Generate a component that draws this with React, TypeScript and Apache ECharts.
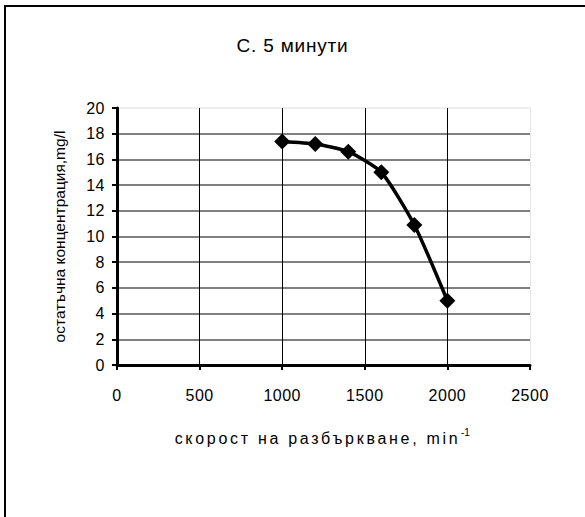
import React, { useEffect, useRef } from "react";
import * as echarts from "echarts";

const speeds = [1000, 1200, 1400, 1600, 1800, 2000];
const concentrations = [17.4, 17.2, 16.6, 15.0, 10.9, 5.0];
const titleText = "С. 5 минути";
const xName = "скорост на разбъркване, min";
const xNameSup = "-1";
const yName = "остатъчна концентрация,mg/l";

export default function App() {
  const ref = useRef<HTMLDivElement>(null);
  useEffect(() => {
    document.body.style.margin = "0";
    const chart = echarts.init(ref.current!, null, { renderer: "svg" });
    const font = "'Liberation Sans', Arial, sans-serif";
    const yGridColors = ["#808080", "#808080", "#808080", "#808080", "#808080", "#808080", "#808080", "#808080", "#808080", "#808080", "#eeeeee"];
    const xGridColors = ["#000000", "#000000", "#000000", "#000000", "#000000", "#e6e6e6"];
    chart.setOption({
      animation: false,
      backgroundColor: "#ffffff",
      title: {
        text: titleText,
        left: "center",
        top: 31,
        textStyle: { fontFamily: font, fontSize: 19, fontWeight: "normal", color: "#000" },
      },
      grid: { left: 117, right: 55, top: 108, bottom: 152, containLabel: false },
      xAxis: {
        type: "value",
        min: 0,
        max: 2500,
        interval: 500,
        name: xName,
        nameLocation: "middle",
        nameGap: 65,
        nameTextStyle: { fontFamily: font, fontSize: 16, color: "#000", padding: [0, 12, 0, 0] },
        axisLine: { show: true, lineStyle: { color: "#000", width: 3 } },
        axisTick: { show: true, length: 5, lineStyle: { color: "#000", width: 2 } },
        axisLabel: { margin: 22, fontFamily: font, fontSize: 16, color: "#000", formatter: (v: number) => String(v) },
        splitLine: { show: true, lineStyle: { color: xGridColors, width: 1 } },
      },
      yAxis: {
        type: "value",
        min: 0,
        max: 20,
        interval: 2,
        name: yName,
        nameLocation: "middle",
        nameGap: 50,
        nameTextStyle: { fontFamily: font, fontSize: 15.5, color: "#000" },
        axisLine: { show: true, lineStyle: { color: "#000", width: 3 } },
        axisTick: { show: true, length: 5, lineStyle: { color: "#000", width: 2 } },
        axisLabel: { margin: 12, fontFamily: font, fontSize: 16, color: "#000" },
        splitLine: { show: true, lineStyle: { color: yGridColors, width: 2 } },
      },
      series: [
        {
          type: "line",
          data: speeds.map((s, i) => [s, concentrations[i]]),
          symbol: "diamond",
          symbolSize: 16,
          smooth: 0.2,
          lineStyle: { color: "#000", width: 3.5 },
          itemStyle: { color: "#000" },
          z: 5,
        },
      ],
      graphic: [
        { type: "line", shape: { x1: 4, y1: 6, x2: 585, y2: 6 }, style: { stroke: "#000", lineWidth: 2 } },
        { type: "line", shape: { x1: 5, y1: 6, x2: 5, y2: 517 }, style: { stroke: "#000", lineWidth: 2 } },
        {
          type: "text",
          x: 461,
          y: 427,
          style: { text: xNameSup, fontFamily: font, fontSize: 10, fill: "#000" },
        },
      ],
    });
    const applySpacing = () => {
      const root = ref.current;
      if (!root) return;
      root.querySelectorAll("text").forEach((t) => {
        const s = t.textContent || "";
        if (s === xName) (t as SVGTextElement).style.letterSpacing = "2.7px";
        else if (s === titleText) (t as SVGTextElement).style.letterSpacing = "0.8px";
        else if (/^\d+$/.test(s)) (t as SVGTextElement).style.letterSpacing = "0.5px";
      });
    };
    applySpacing();
    chart.on("finished", applySpacing);
    return () => chart.dispose();
  }, []);
  return <div ref={ref} style={{ width: 585, height: 517 }} />;
}
